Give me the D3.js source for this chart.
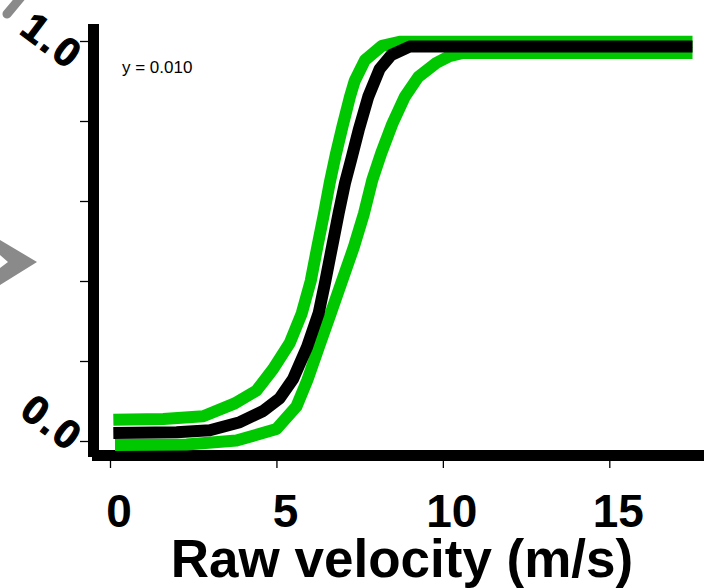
<!DOCTYPE html>
<html>
<head>
<meta charset="utf-8">
<script src="https://cdn.jsdelivr.net/npm/d3@7"></script>
<style>
  html, body { margin: 0; padding: 0; background: #fff; }
  svg { display: block; }
  text { font-family: "Liberation Sans", Arial, sans-serif; }
</style>
</head>
<body>
<script>
// ---- data ----
const xTicks = [0, 5, 10, 15];
const yTicks = [0, 0.2, 0.4, 0.6, 0.8, 1.0];
const yLabelValues = [0, 1];
const yLabelText = ["0.0", "1.0"];
const xTitle = "Raw velocity (m/s)";
const annotation = "y = 0.010";

// black (central) curve
const blackX = [0.1, 2.0, 3.0, 3.9, 4.6, 5.1, 5.5, 5.92, 6.27, 6.47, 6.67, 6.87, 7.06, 7.25, 7.47, 7.76, 8.1, 8.45, 9.0, 17.5];
const blackY = [0.02, 0.022, 0.027, 0.047, 0.075, 0.107, 0.155, 0.235, 0.32, 0.40, 0.485, 0.57, 0.645, 0.705, 0.777, 0.861, 0.93, 0.965, 0.986, 0.986];

// upper green (left) curve
const upperX = [0.1, 1.6, 2.8, 3.75, 4.4, 4.9, 5.4, 5.76, 6.03, 6.23, 6.43, 6.6, 6.78, 6.98, 7.21, 7.35, 7.66, 8.17, 8.7, 17.5];
const upperY = [0.053, 0.055, 0.062, 0.094, 0.126, 0.18, 0.245, 0.319, 0.40, 0.486, 0.569, 0.645, 0.715, 0.785, 0.861, 0.9, 0.952, 0.988, 0.998, 0.998];

// lower green (right) curve
const lowerX = [0.15, 2.3, 3.8, 5.0, 5.6, 5.93, 6.28, 6.63, 6.98, 7.33, 7.63, 7.88, 8.15, 8.48, 8.86, 9.26, 9.8, 10.2, 10.6, 17.5];
const lowerY = [-0.01, -0.009, 0.001, 0.03, 0.086, 0.1525, 0.236, 0.319, 0.4025, 0.486, 0.569, 0.6525, 0.72, 0.7925, 0.861, 0.91, 0.945, 0.962, 0.97, 0.97];

// ---- drawing ----
const W = 704, H = 588;
const svg = d3.select("body").append("svg").attr("width", W).attr("height", H);

const x = d3.scaleLinear().domain([0, 15]).range([110, 609.3]);
const y = d3.scaleLinear().domain([0, 1]).range([441, 41]);

const green = "#00c800";

// decorative gray shapes at the left edge
svg.append("path")
  .attr("d", "M0,240 L37,262 L0,285 L0,268 L8,262 L0,255 Z")
  .attr("fill", "#8a8a8a");
svg.append("line")
  .attr("x1", 7).attr("y1", 14).attr("x2", 22).attr("y2", -4)
  .attr("stroke", "#8a8a8a").attr("stroke-width", 9).attr("stroke-linecap", "round");

// thick axis lines
svg.append("rect").attr("x", 88).attr("y", 24).attr("width", 11).attr("height", 433).attr("fill", "#000");
svg.append("rect").attr("x", 92).attr("y", 450).attr("width", W - 92).attr("height", 11).attr("fill", "#000");

// y ticks
const yAxis = svg.append("g").attr("transform", "translate(88,0)")
  .call(d3.axisLeft(y).tickValues(yTicks).tickSize(8).tickFormat(""));
yAxis.select(".domain").remove();
yAxis.selectAll(".tick line").attr("stroke", "#000").attr("stroke-width", 1.3);

// x ticks
const xAxis = svg.append("g").attr("transform", "translate(0,461)")
  .call(d3.axisBottom(x).tickValues(xTicks).tickSize(7).tickFormat(""));
xAxis.select(".domain").remove();
xAxis.selectAll(".tick line").attr("stroke", "#000").attr("stroke-width", 1.3);

// x tick labels
svg.append("g").selectAll("text").data(xTicks).join("text")
  .attr("x", d => x(d) + 9)
  .attr("y", 527)
  .attr("text-anchor", "middle")
  .attr("font-size", 46)
  .attr("font-weight", "bold")
  .attr("fill", "#000")
  .text(d => d);

// x title
svg.append("text")
  .attr("x", 402).attr("y", 577)
  .attr("text-anchor", "middle")
  .attr("font-size", 53)
  .attr("font-weight", "bold")
  .attr("fill", "#000")
  .text(xTitle);

// rotated y labels
const yLab = d3.scaleLinear().domain([0, 1]).range([y(0) - 7, y(1) + 11]);
svg.append("g").selectAll("text").data(yLabelValues).join("text")
  .attr("transform", d => `translate(44,${yLab(d)}) rotate(37)`)
  .attr("text-anchor", "middle")
  .attr("font-size", 40)
  .attr("font-weight", "bold")
  .attr("letter-spacing", 3)
  .attr("fill", "#000")
  .attr("stroke", "#000")
  .attr("stroke-width", 1.2)
  .text((d, i) => yLabelText[i]);

// annotation
svg.append("text")
  .attr("x", 122).attr("y", 73)
  .attr("font-size", 17)
  .attr("fill", "#000")
  .text(annotation);

// curves
const line = d3.line().x(d => x(d[0])).y(d => y(d[1]));
const series = [
  { xs: upperX, ys: upperY, color: green },
  { xs: lowerX, ys: lowerY, color: green },
  { xs: blackX, ys: blackY, color: "#000" }
];
svg.append("g").selectAll("path").data(series).join("path")
  .attr("d", s => line(s.xs.map((v, i) => [v, s.ys[i]])))
  .attr("fill", "none")
  .attr("stroke", s => s.color)
  .attr("stroke-width", 12)
  .attr("stroke-linejoin", "round")
  .attr("stroke-linecap", "butt");
</script>
</body>
</html>
